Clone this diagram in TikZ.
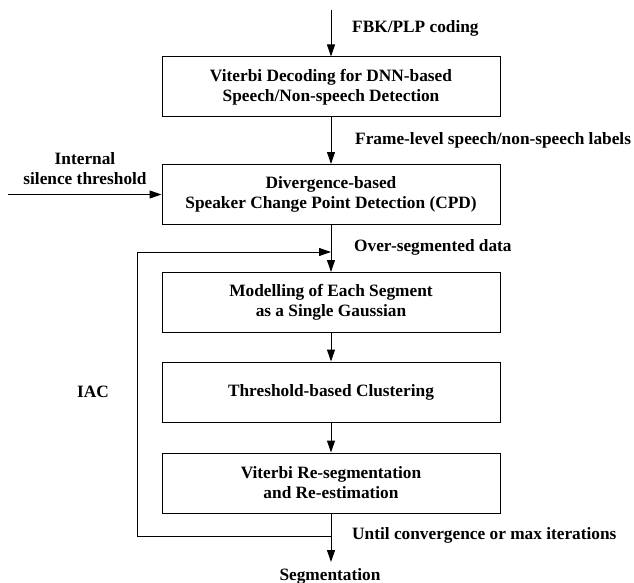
\documentclass[tikz,border=0pt]{standalone}
\usepackage{fontspec}
\setmainfont{Liberation Serif}
\usetikzlibrary{arrows.meta}
\tikzset{
  stage/.style={draw, line width=1pt, minimum width=338pt, minimum height=60pt,
    inner sep=0pt, align=center, font=\bfseries\fontsize{17.3}{20}\selectfont},
  note/.style={inner sep=0pt, align=center, font=\bfseries\fontsize{17.3}{20}\selectfont},
  flow/.style={line width=1pt, -{Triangle[length=12pt,width=8pt]}},
  wire/.style={line width=1pt}
}
\begin{document}
\begin{tikzpicture}[x=1pt,y=-1pt]
\useasboundingbox (0,0) rectangle (634,583);

% processing stages
\node[stage] (vad) at (331,87) {Viterbi Decoding for DNN-based\\Speech/Non-speech Detection};
\node[stage] (cpd) at (331,194.5) {Divergence-based\\Speaker Change Point Detection (CPD)};
\node[stage] (gauss) at (331,302.5) {Modelling of Each Segment\\as a Single Gaussian};
\node[stage] (clust) at (331,392) {Threshold-based Clustering};
\node[stage] (reseg) at (331,483) {Viterbi Re-segmentation\\and Re-estimation};

% labels
\node[note, anchor=west] (feat) at (352,28) {FBK/PLP coding};
\node[note, anchor=west] (frame) at (355,140) {Frame-level speech/non-speech labels};
\node[note] (sil) at (85,169) {Internal\\silence threshold};
\node[note, anchor=west] (over) at (354,247) {Over-segmented data};
\node[note] (iac) at (93,392) {IAC};
\node[note, anchor=west] (until) at (352,535) {Until convergence or max iterations};
\node[note] (seg) at (330,576) {Segmentation};

% free ends and loop corners
\coordinate (in) at (331,10);
\coordinate (thr) at (8,194.5);
\coordinate (join) at (331,536);
\coordinate (out) at (331,562);
\coordinate (loopbl) at (137,536);
\coordinate (looptl) at (137,252);
\coordinate (loopend) at (331,252);

% main flow
\draw[flow] (in) -- (vad);
\draw[flow] (vad) -- (cpd);
\draw[flow] (thr) -- (cpd.west);
\draw[flow] (cpd) -- (gauss);
\draw[flow] (gauss) -- (clust);
\draw[flow] (clust) -- (reseg);
\draw[flow] (reseg) -- (out);

% iteration loop
\draw[wire] (join) -- (loopbl) -- (looptl);
\draw[flow] (looptl) -- (loopend);
\end{tikzpicture}
\end{document}
